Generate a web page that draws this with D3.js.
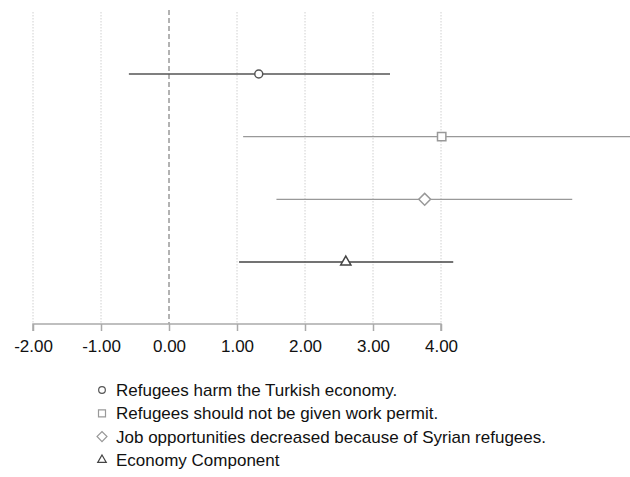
<!DOCTYPE html>
<html><head><meta charset="utf-8">
<script src="https://cdn.jsdelivr.net/npm/d3@7"></script>
<style>body{margin:0;background:#fff;} text{font-family:"Liberation Sans",Arial,sans-serif;}</style>
</head><body><svg id="c" width="630" height="477"></svg>
<script>
const labels = ["Refugees harm the Turkish economy.","Refugees should not be given work permit.","Job opportunities decreased because of Syrian refugees.","Economy Component"];
const estimates = [1.32, 4.01, 3.76, 2.60];
const lowers = [-0.59, 1.09, 1.58, 1.03];
const uppers = [3.25, 7.0, 5.93, 4.18];
const markers = ["circle","square","diamond","triangle"];
const colors = ["#555","#999","#999","#444"];
const ticks = [-2,-1,0,1,2,3,4];

(function(){
const svg = d3.select("#c");
const x = d3.scaleLinear().domain([-2,4]).range([33,441]);
const y = d3.scalePoint().domain(d3.range(labels.length)).range([74,262]);
const plotTop = 12, plotBottom = 324;

// grid
svg.append("g").selectAll("line").data(ticks.filter(t=>t!==0)).join("line")
  .attr("x1",d=>x(d)).attr("x2",d=>x(d)).attr("y1",plotTop).attr("y2",plotBottom)
  .attr("stroke","#d0d0d0").attr("stroke-width",1).attr("stroke-dasharray","1.5,1.5");
// zero line
svg.append("line").attr("x1",x(0)).attr("x2",x(0)).attr("y1",10).attr("y2",plotBottom)
  .attr("stroke","#666").attr("stroke-width",1).attr("stroke-dasharray","5,3");

// axis
const fmt = d => d3.format(".2f")(d).replace("\u2212","-");
const ax = svg.append("g").attr("transform",`translate(0,${plotBottom})`)
  .call(d3.axisBottom(x).tickValues(ticks).tickFormat(fmt).tickSize(7));
ax.select(".domain").attr("stroke","#aaa").attr("stroke-width",1.5).attr("d",`M${x(-2)},7V0H${x(4)}V7`);
ax.selectAll(".tick line").attr("stroke","#aaa").attr("stroke-width",1.5);
ax.selectAll(".tick text").attr("font-size",17).attr("fill","#111").attr("dy",0).attr("y",28);

const sym = {circle:d3.symbolCircle, square:d3.symbolSquare, diamond:d3.symbolSquare, triangle:d3.symbolTriangle};
const rot = {circle:0, square:0, diamond:45, triangle:0};
const sizes = {circle:50, square:70, diamond:70, triangle:45};

const g = svg.append("g");
labels.forEach((l,i)=>{
  g.append("line").attr("x1",x(lowers[i])).attr("x2",Math.min(x(uppers[i]),630)).attr("y1",y(i)).attr("y2",y(i))
    .attr("stroke",colors[i]).attr("stroke-width",1.3);
  g.append("path").attr("d",d3.symbol().type(sym[markers[i]]).size(sizes[markers[i]])())
    .attr("transform",`translate(${x(estimates[i])},${y(i)}) rotate(${rot[markers[i]]})`)
    .attr("fill","#fff").attr("stroke",colors[i]).attr("stroke-width",1.5);
});

// legend
const lg = svg.append("g");
labels.forEach((l,i)=>{
  const yy = 390 + i*23.3;
  lg.append("path").attr("d",d3.symbol().type(sym[markers[i]]).size(sizes[markers[i]]*0.7)())
    .attr("transform",`translate(102,${yy}) rotate(${rot[markers[i]]})`).attr("fill","#fff").attr("stroke",colors[i]).attr("stroke-width",1.2);
  lg.append("text").attr("x",116).attr("y",yy).attr("dy","0.36em").attr("font-size",17).attr("fill","#111").text(l);
});
})();
</script></body></html>
